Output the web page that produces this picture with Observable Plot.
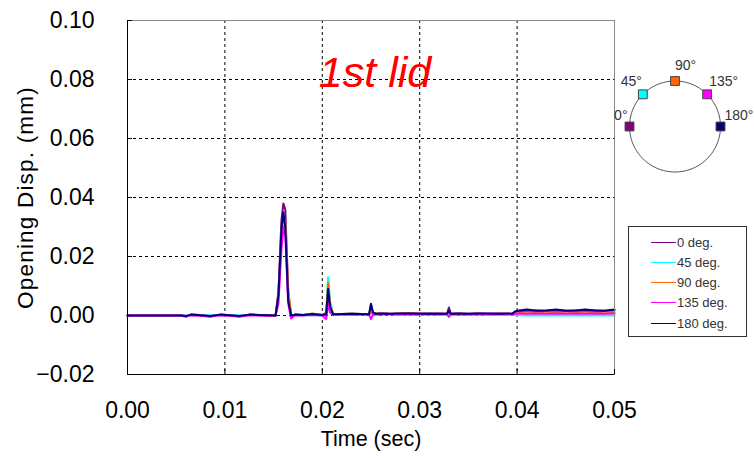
<!DOCTYPE html>
<html><head><meta charset="utf-8">
<script src="https://cdn.jsdelivr.net/npm/d3@7"></script>
<script src="https://cdn.jsdelivr.net/npm/@observablehq/plot@0.6"></script>
<style>
body{margin:0;background:#fff;}
#wrap{position:relative;width:754px;height:458px;font-family:"Liberation Sans",Arial,sans-serif;overflow:hidden;}
#wrap svg{overflow:visible;}
#inset{position:absolute;left:600px;top:55px;}
#legend{position:absolute;left:628px;top:226px;width:119px;height:111px;border:1px solid #333;box-sizing:border-box;background:#fff;}
.row{position:absolute;left:22px;height:16px;display:flex;align-items:center;font-size:13px;color:#333;}
.row span.sw{display:inline-block;width:25px;height:0;border-top:1.5px solid;margin-right:1px;}
.ylab{letter-spacing:1.2px;}
</style></head><body><div id="wrap"><div id="main"></div><div id="inset"></div><div id="legend"></div></div>
<script>
const time = [0, 0.0055, 0.006, 0.0065, 0.0075, 0.0085, 0.0095, 0.0105, 0.0115, 0.0125, 0.0135, 0.0145,
  0.0152, 0.0155, 0.0158, 0.0160, 0.0162, 0.0165, 0.0168, 0.0172, 0.018, 0.019, 0.0200,
  0.0204, 0.0206, 0.0208, 0.0211, 0.0215, 0.022, 0.023, 0.024, 0.0248,
  0.0250, 0.0252, 0.0255, 0.026, 0.027, 0.028, 0.029, 0.030, 0.031, 0.032, 0.0328,
  0.0330, 0.0332, 0.034, 0.035, 0.036, 0.037, 0.038, 0.039, 0.0395, 0.0398,
  0.040, 0.041, 0.042, 0.043, 0.044, 0.045, 0.046, 0.047, 0.048, 0.049, 0.050];
const deg0 = [0, 0, -0.0003, 0.0003, 0.0002, -0.0002, 0.0003, 0.0001, -0.0002, 0.0003, 0.0002, 0.0001,
  0, 0.008, 0.032, 0.038, 0.036, 0.008, 0, 0.0003, 0.0002, 0.0004, 0.0002,
  0.0005, 0.007, 0.003, 0.0006, 0.0004, 0.0005, 0.0006, 0.0005, 0.0004,
  0.0035, 0.001, 0.0006, 0.0007, 0.0006, 0.0007, 0.0008, 0.0007, 0.0006, 0.0007, 0.0006,
  0.0027, 0.0006, 0.0007, 0.0006, 0.0007, 0.0006, 0.0007, 0.0006, 0.0007, 0.0012,
  0.0015, 0.0016, 0.0017, 0.0016, 0.0017, 0.0016, 0.0017, 0.0016, 0.0017, 0.0016, 0.0017];
const deg45 = [0, 0, 0, 0.0002, 0.0001, 0, 0.0002, 0.0001, 0, 0.0002, 0.0001, 0,
  0, 0.006, 0.028, 0.034, 0.031, 0.006, 0, 0.0002, 0.0001, 0.0002, 0.0001,
  0.001, 0.013, 0.005, 0.0003, 0.0002, 0.0003, 0.0002, 0.0003, 0.0004,
  0.001, 0.0003, 0.0002, 0.0003, 0.0003, 0.0002, 0.0003, 0.0002, 0.0003, 0.0002, 0.0002,
  0.0004, 0.0002, 0.0003, 0.0002, 0.0003, 0.0002, 0.0002, 0.0002, 0.0003, 0.0002,
  0.0001, 0, 0.0001, 0, 0.0001, 0, 0.0001, 0, 0.0001, 0, 0];
const deg90 = [0, 0, -0.0002, 0.0002, 0, -0.0003, 0.0002, 0, -0.0003, 0.0002, 0.0001, 0,
  0, 0.007, 0.027, 0.033, 0.032, 0.009, 0, 0.0003, 0.0002, 0.0007, 0.0002,
  0.001, 0.011, 0.004, 0.0005, 0.0004, 0.0005, 0.0006, 0.0005, 0.0004,
  0.001, 0.0005, 0.0006, 0.0007, 0.0005, 0.0006, 0.0007, 0.0006, 0.0005, 0.0006, 0.0005,
  0.0008, 0.0005, 0.0006, 0.0005, 0.0006, 0.0005, 0.0006, 0.0005, 0.0006, 0.0008,
  0.0009, 0.0008, 0.0009, 0.0008, 0.0009, 0.0008, 0.0009, 0.0008, 0.0009, 0.0008, 0.0009];
const deg135 = [0, 0, -0.0004, 0.0001, -0.0001, -0.0004, 0.0001, -0.0001, -0.0004, 0.0001, 0, -0.0001,
  0, 0.004, 0.022, 0.030, 0.027, 0.004, -0.001, 0.0001, 0, 0.0002, 0,
  -0.0012, 0.004, 0.001, 0.0002, 0.0003, 0.0004, 0.0003, 0.0004, 0.0003,
  -0.0012, 0.0003, 0.0004, 0.0005, 0.0004, 0.0005, 0.0004, 0.0005, 0.0004, 0.0005, 0.0004,
  -0.0005, 0.0004, 0.0005, 0.0004, 0.0005, 0.0004, 0.0004, 0.0005, 0.0004, 0.0006,
  0.0007, 0.0006, 0.0007, 0.0006, 0.0007, 0.0006, 0.0007, 0.0006, 0.0007, 0.0006, 0.0007];
const deg180 = [0, 0, -0.0002, 0.0003, 0.0001, -0.0002, 0.0003, 0.0001, -0.0002, 0.0003, 0.0002, 0.0001,
  0, 0.007, 0.029, 0.035, 0.030, 0.005, 0, 0.0003, 0.0002, 0.0005, 0.0002,
  0.0005, 0.009, 0.003, 0.0005, 0.0004, 0.0005, 0.0006, 0.0005, 0.0004,
  0.004, 0.001, 0.0006, 0.0007, 0.0006, 0.0007, 0.0007, 0.0006, 0.0007, 0.0006, 0.0006,
  0.0015, 0.0006, 0.0007, 0.0006, 0.0007, 0.0007, 0.0006, 0.0007, 0.0006, 0.0014,
  0.0016, 0.0020, 0.0016, 0.0017, 0.0020, 0.0016, 0.0017, 0.0020, 0.0017, 0.0016, 0.0020];

const seriesNames = ["0 deg.", "45 deg.", "90 deg.", "135 deg.", "180 deg."];
const seriesColors = ["#800080", "#00FFFF", "#FF6600", "#FF00FF", "#000080"];
const xTicks = [0, 0.01, 0.02, 0.03, 0.04, 0.05];
const yTicks = [-0.02, 0, 0.02, 0.04, 0.06, 0.08, 0.10];
const angles = [0, 45, 90, 135, 180];
const angleLabels = ["0°", "45°", "90°", "135°", "180°"];
const titleText = "1st lid";
const xLabel = "Time (sec)";
const yLabel = "Opening Disp. (mm)";

const allSeries = [deg0, deg45, deg90, deg135, deg180];
const rows = [];
allSeries.forEach((vals, i) => vals.forEach((v, j) => rows.push({t: time[j], v, s: seriesNames[i]})));
const fmt = d3.format(".2f");

const main = Plot.plot({
  width: 754, height: 458,
  marginLeft: 127, marginRight: 140, marginTop: 20, marginBottom: 84,
  style: {fontFamily: "'Liberation Sans', Arial, sans-serif", background: "white"},
  x: {domain: [0, 0.05]},
  y: {domain: [-0.02, 0.10]},
  color: {domain: seriesNames, range: seriesColors},
  marks: [
    Plot.gridX(xTicks, {stroke: "black", strokeOpacity: 1, strokeDasharray: "3,3"}),
    Plot.gridY(yTicks, {stroke: "black", strokeOpacity: 1, strokeDasharray: "3,3"}),
    Plot.line(rows, {x: "t", y: "v", z: "s", stroke: "s", strokeWidth: 2}),
    Plot.frame({stroke: "#888"}),
    Plot.ruleX([0], {stroke: "black"}),
    Plot.ruleY([-0.02], {stroke: "black"}),
    Plot.axisX({ticks: xTicks, tickSize: -5, tickFormat: () => "", label: null}),
    Plot.axisY({ticks: yTicks, tickSize: -5, tickFormat: () => "", label: null}),
    Plot.axisX({ticks: xTicks, tickSize: 0, tickPadding: 27, tickFormat: fmt, fontSize: 23, label: null, fill: "black"}),
    Plot.axisY({ticks: yTicks, tickSize: 0, tickPadding: 33, tickFormat: fmt, fontSize: 23, label: null, fill: "black"}),
    Plot.text([xLabel], {frameAnchor: "bottom", dy: 71, fontSize: 21.5, fill: "black"}),
    Plot.text([yLabel], {frameAnchor: "left", dx: -102, rotate: -90, textAnchor: "middle", fontSize: 22.5, fill: "black", className: "ylab"}),
    Plot.text([titleText], {frameAnchor: "top", dy: 36, dx: 4, fontSize: 43, fontStyle: "italic", fill: "red"})
  ]
});
document.getElementById("main").appendChild(main);

// circle diagram
const ring = d3.range(0, 361, 3).map(a => ({x: Math.cos(a * Math.PI / 180), y: Math.sin(a * Math.PI / 180)}));
const marks = angles.map((a, i) => ({x: -Math.cos(a * Math.PI / 180), y: Math.sin(a * Math.PI / 180), label: angleLabels[i], c: seriesColors[i], a}));
const labDx = {0: -2, 45: -1, 90: 0, 135: 2, 180: 4};
const labDy = {0: -11, 45: -13, 90: -15, 135: -13, 180: -11};
const labAnchor = {0: "end", 45: "end", 90: "start", 135: "start", 180: "start"};
const inset = Plot.plot({
  width: 154, height: 140,
  marginLeft: 29, marginRight: 34, marginTop: 25.5, marginBottom: 23.5,
  x: {domain: [-1, 1], axis: null},
  y: {domain: [-1, 1], axis: null},
  style: {fontFamily: "'Liberation Sans', Arial, sans-serif", background: "transparent"},
  marks: [
    Plot.line(ring, {x: "x", y: "y", stroke: "#555", strokeWidth: 1}),
    Plot.dot(marks, {x: "x", y: "y", symbol: "square", r: 5, fill: "c", stroke: "#444", strokeWidth: 1}),
    ...angles.map(a => Plot.text(marks.filter(m => m.a === a), {x: "x", y: "y", text: "label",
      dx: labDx[a], dy: labDy[a], textAnchor: labAnchor[a], fontSize: 14, fill: "#333"}))
  ]
});
document.getElementById("inset").appendChild(inset);

// legend
const lg = document.getElementById("legend");
seriesNames.forEach((n, i) => {
  const r = document.createElement("div");
  r.className = "row";
  r.style.top = (7 + i * 20.3) + "px";
  r.innerHTML = `<span class="sw" style="border-color:${seriesColors[i]}"></span><span>${n}</span>`;
  lg.appendChild(r);
});
</script></body></html>
